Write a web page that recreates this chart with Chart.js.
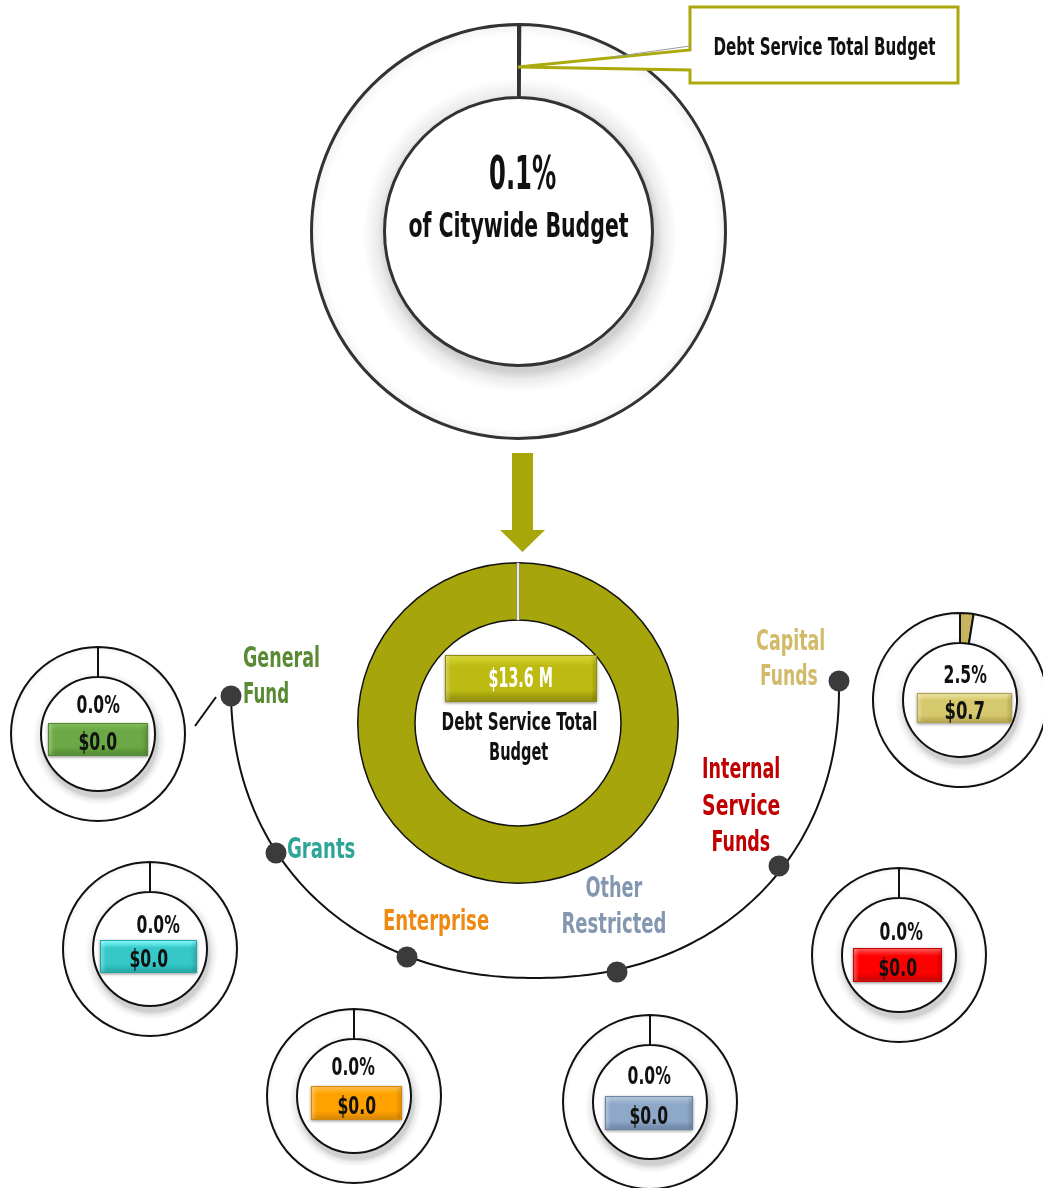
<!DOCTYPE html>
<html><head><meta charset="utf-8">
<script src="https://cdn.jsdelivr.net/npm/chart.js@4.4.0/dist/chart.umd.min.js"></script>
<style>
html,body{margin:0;padding:0;background:#fff;}
#stage{position:relative;width:1043px;height:1188px;overflow:hidden;background:#fff;}
.cv{position:absolute;}
.t{position:absolute;white-space:nowrap;font-family:"Liberation Sans Narrow","DejaVu Sans Condensed","Arial Narrow",sans-serif;font-weight:bold;z-index:20;line-height:1;}
.box{position:absolute;z-index:15;box-sizing:border-box;}
</style></head>
<body><div id="stage"></div>
<script>
// ---------------- DATA ----------------
const citywideLabel = 'of Citywide Budget';
const citywideShare = [0.1, 99.9];          // % of citywide budget: Debt Service, rest
const debtTotalM = 13.6;                    // $ M
const debtTitle = 'Debt Service Total Budget';
const fundNames = ['General Fund', 'Grants', 'Enterprise', 'Other Restricted', 'Internal Service Funds', 'Capital Funds'];
const fundPct = [0.0, 0.0, 0.0, 0.0, 0.0, 2.5];
const fundAmount = [0.0, 0.0, 0.0, 0.0, 0.0, 0.7];

// ---------------- STYLE / LAYOUT ----------------
const OLIVE = '#A6A50B';
const fundText = ['#5A8A34', '#2FA597', '#EE8A12', '#8497B0', '#C00000', '#D2BA68'];
const fundSlice = ['#70AD47', '#33CCCC', '#FFA500', '#8EA9C8', '#FF0000', '#C8B45E'];
const fundBox = [
  ['#7DBA55', '#6CA845', '#4F8A2E'],
  ['#80FFFF', '#36C8C8', '#1FA8A8'],
  ['#FFC040', '#FFA200', '#D98600'],
  ['#B3C6DC', '#8EA8C8', '#6A85A6'],
  ['#FF5050', '#FF0000', '#C80000'],
  ['#EEE6A6', '#D6C86C', '#B5A64E']
];
const fundCenter = [[98, 734], [150, 949], [354, 1096], [650, 1102], [899, 955], [960, 700]];
const pctPos = [[98, 704, 43], [158, 924, 43], [353, 1066, 43], [649, 1075, 43], [901, 931, 43], [965, 674, 43]];
const boxRect = [[48, 723, 100, 33], [100, 940, 97, 33], [311, 1086, 91, 34], [605, 1096, 88, 34], [853, 948, 89, 34], [917, 693, 95, 30]];
const amtW = [39, 39, 39, 39, 39, 41];
const labelLayout = [
  {align: 'left', lines: [[243, 657, 77], [243, 693, 46]]},
  {align: 'left', lines: [[287, 848, 68]]},
  {align: 'left', lines: [[383, 920, 106]]},
  {align: 'center', lines: [[614, 887, 57], [614, 923, 105]]},
  {align: 'center', lines: [[741, 768, 78], [741, 805, 78], [741, 841, 59]]},
  {align: 'center', lines: [[790, 640, 69], [789, 675, 58]]}
];
const dots = [[231, 696], [276, 853], [407, 957], [617, 972], [779, 866], [839, 681]];
const curve = {cx: 535, cy: 688, rx: 304, ry: 290, n: 2.15};

const stage = document.getElementById('stage');

function addText(str, x, y, size, color, targetW, align, z) {
  const el = document.createElement('div');
  el.className = 't';
  el.textContent = str;
  el.style.fontSize = size + 'px';
  el.style.color = color;
  if (z) el.style.zIndex = z;
  stage.appendChild(el);
  const w = el.offsetWidth;
  const s = targetW ? targetW / w : 1;
  el.style.top = (y - size * 0.49) + 'px';
  if (align === 'left') {
    el.style.left = x + 'px';
    el.style.transformOrigin = '0 50%';
  } else {
    el.style.left = (x - w / 2) + 'px';
    el.style.transformOrigin = '50% 50%';
  }
  el.style.transform = 'scaleX(' + s.toFixed(3) + ')';
  return el;
}

function addBox(x, y, w, h, c) {
  const b = document.createElement('div');
  b.className = 'box';
  b.style.left = x + 'px'; b.style.top = y + 'px';
  b.style.width = w + 'px'; b.style.height = h + 'px';
  b.style.background = 'linear-gradient(to bottom,' + c[0] + ' 0%,' + c[1] + ' 22%,' + c[1] + ' 75%,' + c[2] + ' 100%)';
  b.style.border = '1px solid ' + c[2];
  b.style.boxShadow = '0 1px 3px rgba(0,0,0,0.45), inset 3px 0 3px rgba(255,255,255,0.25), inset -3px 0 3px rgba(0,0,0,0.12)';
  stage.appendChild(b);
}

function ringGradient(chart, rIn, rOut) {
  const a = chart.chartArea;
  if (!a) return '#ffffff';
  const x = (a.left + a.right) / 2, y = (a.top + a.bottom) / 2;
  const g = chart.ctx.createRadialGradient(x + 2, y + 6, rIn, x, y, rOut);
  g.addColorStop(0, '#d0d0d0');
  g.addColorStop(0.12, '#ececec');
  g.addColorStop(0.32, '#ffffff');
  g.addColorStop(0.85, '#ffffff');
  g.addColorStop(1, '#f2f2f2');
  return g;
}

function makeDonut(cx, cy, r, rIn, data, colorFn, borderColor, bw, plugins, z) {
  const pad = 2;
  const S = Math.ceil(2 * r + bw + 2 * pad);
  const c = document.createElement('canvas');
  c.className = 'cv';
  c.width = S; c.height = S;
  c.style.width = S + 'px'; c.style.height = S + 'px';
  c.style.left = (cx - S / 2) + 'px';
  c.style.top = (cy - S / 2) + 'px';
  c.style.zIndex = z || 5;
  stage.appendChild(c);
  return new Chart(c, {
    type: 'doughnut',
    data: {datasets: [{data: data, backgroundColor: colorFn, borderColor: borderColor, borderWidth: bw, borderAlign: 'center'}]},
    options: {
      responsive: false, animation: false, events: [],
      cutout: rIn,
      layout: {padding: pad},
      plugins: {legend: {display: false}, tooltip: {enabled: false}}
    },
    plugins: plugins || []
  });
}

// ---- top donut: share of citywide budget
makeDonut(518, 231, 207, 134, citywideShare,
  (ctx) => ringGradient(ctx.chart, 134, 207), '#333333', 3);

// ---- middle donut: total debt service
const midLine = {
  id: 'midLine',
  afterDatasetsDraw(chart) {
    const a = chart.chartArea, ctx = chart.ctx;
    const x = (a.left + a.right) / 2, y = (a.top + a.bottom) / 2;
    const arc = chart.getDatasetMeta(0).data[0];
    ctx.save();
    ctx.beginPath();
    ctx.moveTo(x, y - arc.innerRadius);
    ctx.lineTo(x, y - arc.outerRadius);
    ctx.strokeStyle = '#8a8a8a'; ctx.lineWidth = 3.2; ctx.stroke();
    ctx.strokeStyle = '#ffffff'; ctx.lineWidth = 1.6; ctx.stroke();
    ctx.restore();
  }
};
makeDonut(518, 723, 160, 103, [debtTotalM], () => OLIVE, '#111111', 1.5, [midLine]);

// ---- fund donuts
for (let i = 0; i < fundNames.length; i++) {
  const [cx, cy] = fundCenter[i];
  makeDonut(cx, cy, 87, 57, [fundPct[i], 100 - fundPct[i]],
    (ctx) => ctx.dataIndex === 0 ? fundSlice[i] : ringGradient(ctx.chart, 57, 87), '#111111', 2);
}

// ---- decorations overlay (arc, dots, arrow, callout)
const decor = {
  id: 'decor',
  afterDraw(chart) {
    const ctx = chart.ctx;
    ctx.save();
    // connecting curve (superellipse, lower half)
    const {cx, cy, rx, ry, n} = curve;
    ctx.beginPath();
    const steps = 200;
    for (let k = 0; k <= steps; k++) {
      const t = Math.PI - Math.PI * k / steps;
      const c = Math.cos(t), s = Math.sin(t);
      const x = cx + rx * Math.sign(c) * Math.pow(Math.abs(c), 2 / n);
      const y = cy + ry * Math.pow(Math.abs(s), 2 / n);
      if (k === 0) ctx.moveTo(x, y); else ctx.lineTo(x, y);
    }
    ctx.strokeStyle = '#111'; ctx.lineWidth = 2; ctx.stroke();
    // small tick near general fund
    ctx.beginPath(); ctx.moveTo(195, 726); ctx.lineTo(216, 697); ctx.stroke();
    // dots
    ctx.fillStyle = '#3b3b3b';
    dots.forEach(d => { ctx.beginPath(); ctx.arc(d[0], d[1], 10.5, 0, Math.PI * 2); ctx.fill(); });
    // arrow
    ctx.beginPath();
    ctx.moveTo(512, 453); ctx.lineTo(533, 453); ctx.lineTo(533, 530); ctx.lineTo(545, 530);
    ctx.lineTo(522.5, 552); ctx.lineTo(500, 530); ctx.lineTo(512, 530); ctx.closePath();
    ctx.fillStyle = '#A8A70A'; ctx.fill();
    // callout
    ctx.beginPath();
    ctx.moveTo(690, 50); ctx.lineTo(690, 7); ctx.lineTo(958, 7); ctx.lineTo(958, 83);
    ctx.lineTo(690, 83); ctx.lineTo(690, 70); ctx.lineTo(518, 67); ctx.closePath();
    ctx.fillStyle = '#fff'; ctx.fill();
    ctx.strokeStyle = '#ABAA0C'; ctx.lineWidth = 3; ctx.lineJoin = 'miter'; ctx.stroke();
    ctx.beginPath(); ctx.moveTo(612, 57); ctx.lineTo(690, 46);
    ctx.strokeStyle = '#9a9a9a'; ctx.lineWidth = 1; ctx.stroke();
    ctx.restore();
  }
};
(function () {
  const c = document.createElement('canvas');
  c.className = 'cv';
  c.width = 1043; c.height = 1188;
  c.style.left = '0px'; c.style.top = '0px';
  c.style.width = '1043px'; c.style.height = '1188px';
  c.style.zIndex = 10;
  c.style.pointerEvents = 'none';
  stage.appendChild(c);
  new Chart(c, {
    type: 'scatter',
    data: {datasets: []},
    options: {
      responsive: false, animation: false, events: [],
      layout: {padding: 0},
      plugins: {legend: {display: false}, tooltip: {enabled: false}},
      scales: {x: {display: false}, y: {display: false}}
    },
    plugins: [decor]
  });
})();

// ---- texts
addText(debtTitle, 824, 47, 24, '#111', 222, 'center');
addText(citywideShare[0].toFixed(1) + '%', 522, 172, 47, '#111', 67, 'center');
addText(citywideLabel, 518, 225, 33, '#111', 220, 'center');

addBox(445, 655, 152, 47, ['#D9D735', '#BDBB12', '#8F8D08']);
addText('$' + debtTotalM.toFixed(1) + ' M', 520, 678, 26, '#ffffff', 64, 'center');
const titleWords = debtTitle.split(' ');
addText(titleWords.slice(0, 3).join(' '), 519, 721, 25, '#111', 156, 'center');
addText(titleWords.slice(3).join(' '), 518, 751, 25, '#111', 59, 'center');

for (let i = 0; i < fundNames.length; i++) {
  const words = fundNames[i].split(' ');
  const L = labelLayout[i];
  words.forEach((w, k) => {
    const [x, y, tw] = L.lines[k];
    addText(w, x, y, 29, fundText[i], tw, L.align);
  });
  const [px, py, pw] = pctPos[i];
  addText(fundPct[i].toFixed(1) + '%', px, py, 25, '#111', pw, 'center');
  const [bx, by, bwid, bh] = boxRect[i];
  addBox(bx, by, bwid, bh, fundBox[i]);
  addText('$' + fundAmount[i].toFixed(1), bx + bwid / 2, by + bh / 2 + 2, 25, '#111', amtW[i], 'center');
}
</script>
</body></html>
